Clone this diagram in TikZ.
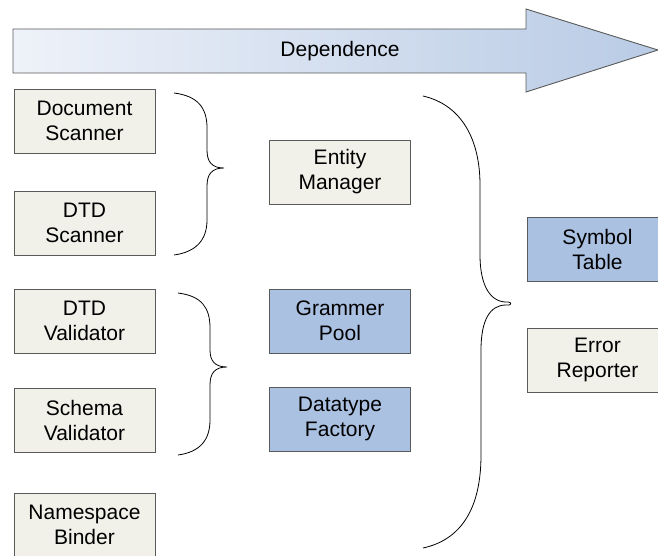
\documentclass[tikz,border=0pt]{standalone}
\usepackage{fontspec}
\setmainfont{Liberation Sans}
\definecolor{boxfill}{HTML}{F1F1EA}
\definecolor{bluefill}{HTML}{ABC1E2}
\definecolor{boxline}{HTML}{5A5A5A}
\definecolor{arrL}{HTML}{EEF2F9}
\definecolor{arrR}{HTML}{B9CBE5}
\tikzset{
  box/.style={draw=boxline, line width=0.9pt, fill=boxfill, minimum width=141pt, minimum height=64pt,
    inner sep=0pt, align=center, font=\fontsize{21}{25}\selectfont},
  bluebox/.style={box, fill=bluefill},
  brace/.style={draw=black, line width=0.8pt},
}
\begin{document}
\begin{tikzpicture}[x=1pt,y=-1pt]
\useasboundingbox (0,0) rectangle (658,556);
% big arrow
\path[draw=boxline, line width=0.9pt, left color=arrL, right color=arrR]
  (13,29) -- (526,29) -- (526,9) -- (658,50) -- (526,92) -- (526,73) -- (13,73) -- cycle;
\node[font=\fontsize{21}{25}\selectfont] (dep) at (340,51) {Dependence};
% left column
\node[box] (ds) at (84.5,121) {Document\\Scanner};
\node[box] (dtds) at (84.5,223) {DTD\\Scanner};
\node[box] (dtdv) at (84.5,321) {DTD\\Validator};
\node[box] (sv) at (84.5,420.5) {Schema\\Validator};
\node[box] (nb) at (84.5,525) {Namespace\\Binder};
% middle column
\node[box] (em) at (340,172) {Entity\\Manager};
\node[bluebox] (gp) at (340,321) {Grammer\\Pool};
\node[bluebox] (df) at (340,419) {Datatype\\Factory};
% right column
\node[bluebox] (st) at (597.5,249) {Symbol\\Table};
\node[box] (er) at (597.5,360) {Error\\Reporter};
% brace 1
\draw[brace] (174,93) .. controls (198,96) and (207,108) .. (207,128)
  -- (207,150) .. controls (207,162) and (212,168) .. (224,168)
  .. controls (212,168) and (207,174) .. (207,186)
  -- (207,220) .. controls (207,240) and (196,252) .. (174,255);
% brace 2
\draw[brace] (178,293) .. controls (202,296) and (210,308) .. (210,328)
  -- (210,350) .. controls (210,361) and (215,367) .. (227,367)
  .. controls (215,367) and (210,373) .. (210,385)
  -- (210,420) .. controls (210,440) and (200,452) .. (178,455);
% big brace
\draw[brace] (423,96) .. controls (462,105) and (480,140) .. (480,185)
  -- (480,255) .. controls (480,285) and (490,303) .. (508,302)
  .. controls (512,302) and (512,306) .. (506,305)
  .. controls (490,305) and (481,320) .. (481,350)
  -- (481,455) .. controls (481,510) and (460,540) .. (423,548);
\end{tikzpicture}
\end{document}
